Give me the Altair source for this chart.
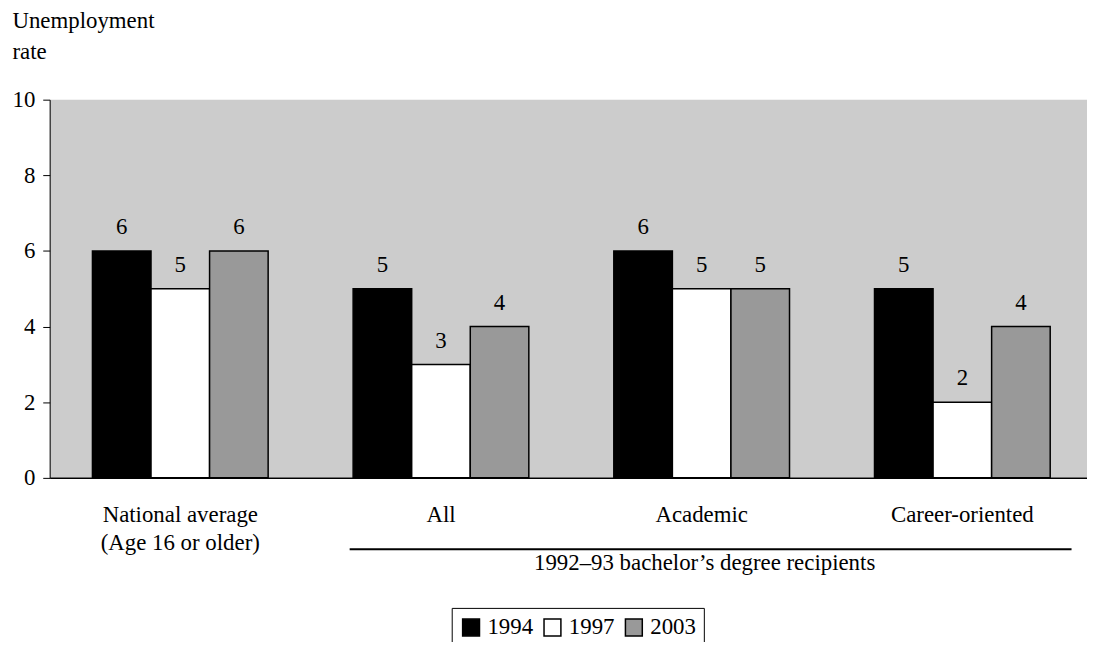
import altair as alt
import pandas as pd

categories = ["National average", "All", "Academic", "Career-oriented"]
years = ["1994", "1997", "2003"]
rate_1994 = [6, 5, 6, 5]
rate_1997 = [5, 3, 5, 2]
rate_2003 = [6, 4, 5, 4]
year_colors = ["#000000", "#ffffff", "#999999"]
y_ticks = [0, 2, 4, 6, 8, 10]
y_title = ["Unemployment", "rate"]
group_label = "1992–93 bachelor’s degree recipients"
group_first = "All"
group_mid = "Academic"
group_last = "Career-oriented"

rows = []
for yr, vals in zip(years, [rate_1994, rate_1997, rate_2003]):
    for c, v in zip(categories, vals):
        rows.append({"category": c, "year": yr, "rate": v})
df = pd.DataFrame(rows)

bracket_df = pd.DataFrame({"category": [group_first], "end": [group_last]})
group_df = pd.DataFrame({"category": [group_mid], "label": [group_label]})

FONT = "Liberation Serif"
FS = 23

x_scale = alt.Scale(domain=categories, range=[0, 1051],
                    paddingInner=0.326, paddingOuter=0.164)

x_axis = alt.Axis(
    title=None, ticks=False, grid=False, domainColor="black", domainWidth=1.5,
    labelFont=FONT, labelFontSize=FS, labelColor="black", labelAngle=0,
    labelPadding=44, labelBaseline="alphabetic", labelLineHeight=28,
    labelExpr="datum.label == 'National average' ? ['National average', '(Age 16 or older)'] : datum.label",
)

y_axis = alt.Axis(
    values=y_ticks, grid=False, tickSize=7, tickColor="black", domainColor="black",
    labelFont=FONT, labelFontSize=FS, labelColor="black", labelPadding=8,
    title=y_title, titleAngle=0, titleAlign="left", titleBaseline="alphabetic",
    titleX=-38, titleY=-73, titleFont=FONT, titleFontSize=FS,
    titleFontWeight="normal", titleLineHeight=32, titleColor="black",
)

legend = alt.Legend(
    orient="none", legendX=405, legendY=512, direction="horizontal", title=None,
    labelFont=FONT, labelFontSize=FS, labelColor="black",
    symbolType="square", symbolSize=289, symbolStrokeColor="black",
    symbolStrokeWidth=1.5, strokeColor="black", fillColor="white",
    padding=8, labelOffset=5, columnPadding=8,
)

bars = alt.Chart(df).mark_bar(stroke="black", strokeWidth=1.5).encode(
    x=alt.X("category:N", scale=x_scale, sort=categories, axis=x_axis),
    xOffset=alt.XOffset("year:N", sort=years,
                        scale=alt.Scale(domain=years, paddingInner=0, paddingOuter=0)),
    y=alt.Y("rate:Q", scale=alt.Scale(domain=[0, 10]), axis=y_axis),
    color=alt.Color("year:N", scale=alt.Scale(domain=years, range=year_colors),
                    legend=legend),
)

labels = alt.Chart(df).mark_text(
    font=FONT, fontSize=FS, dy=-17, baseline="alphabetic", color="black"
).encode(
    x=alt.X("category:N", sort=categories),
    xOffset=alt.XOffset("year:N", sort=years),
    y=alt.Y("rate:Q"),
    text=alt.Text("rate:Q"),
)

rule = alt.Chart(bracket_df).mark_rule(
    color="black", strokeWidth=2, xOffset=-92, x2Offset=110
).encode(
    x=alt.X("category:N", sort=categories),
    x2=alt.X2("end"),
    y=alt.value(453),
)

group_text = alt.Chart(group_df).mark_text(
    font=FONT, fontSize=FS, baseline="alphabetic", color="black", dx=3
).encode(
    x=alt.X("category:N", sort=categories),
    y=alt.value(474),
    text=alt.Text("label:N"),
)

chart = alt.layer(bars, labels, rule, group_text).properties(
    width=1045, height=381,
    autosize=alt.AutoSizeParams(type="none"),
    padding={"left": 42, "top": 90, "right": 0, "bottom": 163},
).configure_view(fill="#cccccc", stroke=None)

chart.save("out.html", embed_options={"renderer": "svg", "actions": False})
